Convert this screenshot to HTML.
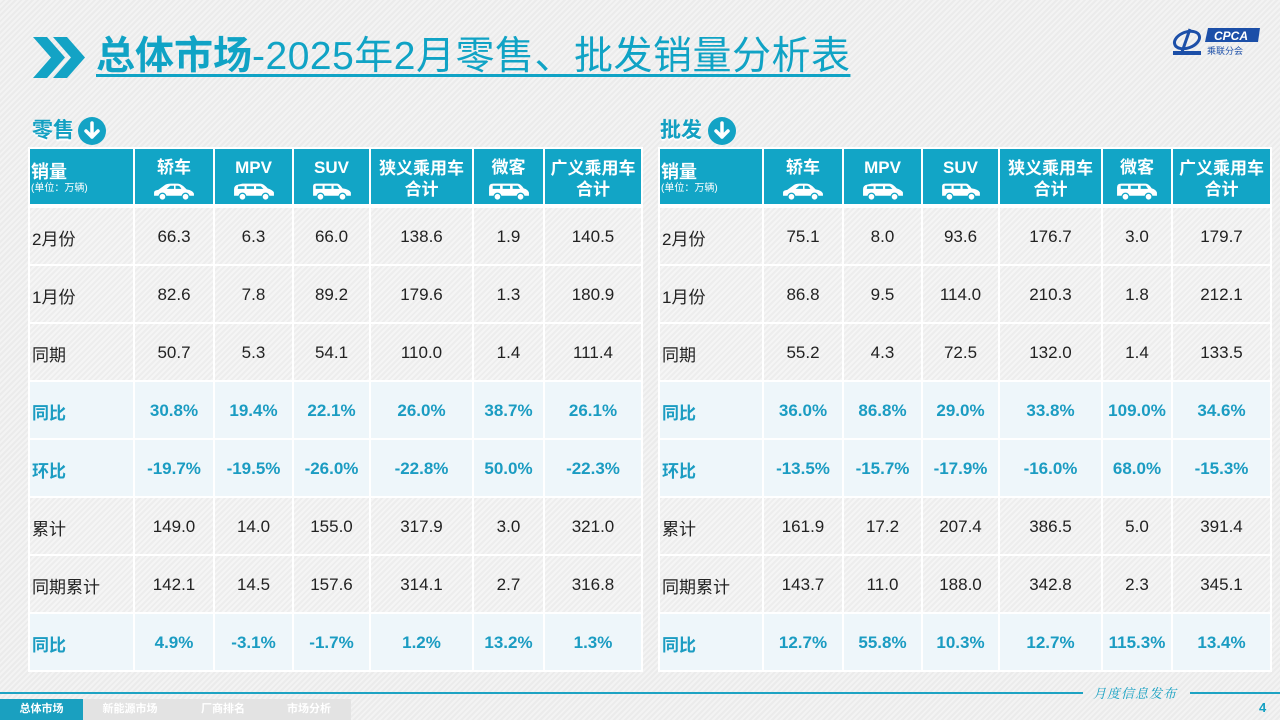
<!DOCTYPE html>
<html><head><meta charset="utf-8">
<style>
*{margin:0;padding:0;box-sizing:border-box}
html,body{width:1280px;height:720px;overflow:hidden}
body{position:relative;background:#efefef;background-image:repeating-linear-gradient(-45deg,#f3f3f3 0 2px,#ebebeb 2px 4px);font-family:"Liberation Sans","Noto Sans CJK SC",sans-serif;color:#222}
.abs{position:absolute}
.title{left:96px;top:34px;height:46px;line-height:46px;font-size:39px;color:#10a3c5;white-space:nowrap;letter-spacing:0.5px;text-decoration:underline;text-decoration-thickness:3px;text-underline-offset:5px;font-family:"Liberation Sans","Noto Sans CJK SC",sans-serif}
.title b{font-weight:bold;letter-spacing:0}
.sec{top:117px;height:28px;line-height:28px;font-size:21px;font-weight:bold;color:#13a0c2;text-shadow:0 2px 1px #fff}
.circ{width:28px;height:28px;border-radius:50%;background:#13a3c5;top:117px}
table{position:absolute;border-collapse:separate;border-spacing:2px;table-layout:fixed;background:#fff}
td{padding:0;text-align:center;vertical-align:middle;font-size:17px;white-space:nowrap;overflow:hidden}
.hd td{background:#12a5c6;color:#fff;font-weight:bold;height:55px;vertical-align:top;padding-top:9px;line-height:20px;font-size:17px}
.hd td.first{text-align:left;padding-top:13px;padding-left:1px}
.hd td.first .u{font-size:10px;font-weight:normal;line-height:14px}
.hd td.two{line-height:21px}
.hd svg{display:block;margin:4px auto 0}
.bd td{height:56px;padding-top:2px;background:#f1f1f1;background-image:repeating-linear-gradient(-45deg,#f5f5f5 0 2px,#ededed 2px 4px)}
.bd td.l{text-align:left;padding-left:2px;padding-top:3px}
.bd tr.h td{background:#eef6fa;color:#1b9cc2;font-weight:bold}
.line{height:2px;background:#1ea3c3;top:692px}
.tab{top:699px;height:21px;line-height:21px;font-size:11px;font-weight:bold;color:#fff;text-align:center}
</style></head><body>

<svg class="abs" style="left:33px;top:37px" width="54" height="41" viewBox="0 0 54 41">
<polygon points="0,0 14,0 32,20.5 14,41 0,41 18,20.5" fill="#13a3c5"/>
<polygon points="20,0 34,0 52,20.5 34,41 20,41 38,20.5" fill="#13a3c5"/>
</svg>
<div class="abs title"><b>总体市场</b>-2025年2月零售、批发销量分析表</div>

<svg class="abs" style="left:1170px;top:26px" width="95" height="32" viewBox="0 0 95 32">
<ellipse cx="17" cy="14" rx="13" ry="8" fill="none" stroke="#1c4fa8" stroke-width="3" transform="rotate(-20 17 14)"/>
<path d="M20 3 L12 26" stroke="#1c4fa8" stroke-width="3"/>
<rect x="3" y="25" width="28" height="4" fill="#1c4fa8"/>
<polygon points="38,2 90,2 88,16 35,16" fill="#1c4fa8"/>
<text x="44" y="14" font-family="Liberation Sans" font-style="italic" font-size="12" fill="#fff" font-weight="bold">CPCA</text>
<text x="37" y="28" font-family="Noto Sans CJK SC" font-size="9" fill="#1c4fa8">乘联分会</text>
</svg>

<div class="abs sec" style="left:32px">零售</div>
<div class="abs circ" style="left:78px"><svg width="28" height="28" viewBox="0 0 28 28"><path d="M14 6 V20 M8 14 L14 20 L20 14" stroke="#fff" stroke-width="3.5" fill="none" stroke-linecap="round" stroke-linejoin="round"/></svg></div>
<div class="abs sec" style="left:660px">批发</div>
<div class="abs circ" style="left:708px"><svg width="28" height="28" viewBox="0 0 28 28"><path d="M14 6 V20 M8 14 L14 20 L20 14" stroke="#fff" stroke-width="3.5" fill="none" stroke-linecap="round" stroke-linejoin="round"/></svg></div>

<svg width="0" height="0" style="position:absolute">
<defs>
<g id="sedan"><path d="M1 13 V10 Q1 8 5 7.5 L11 3 Q13 1.5 17 1.5 H23 Q26 1.5 29 4 L32 7 Q38 8 39 11 V13 Z" fill="#fff"/><path d="M13 6.5 L16.5 3.5 H20 V6.5 Z M21.5 6.5 V3.5 H24 Q25.5 3.5 27 6.5 Z" fill="#12a5c6"/><circle cx="9" cy="14" r="3.3" fill="#fff" stroke="#12a5c6" stroke-width="1.2"/><circle cx="31" cy="14" r="3.3" fill="#fff" stroke="#12a5c6" stroke-width="1.2"/></g>
<g id="mpv"><path d="M1 13 V7 Q1 3 5 2.5 L9 1.5 H26 Q29 1.5 33 6 Q38 7.5 39 10 V13 Z" fill="#fff"/><path d="M5 4 H11 V6.5 H4.5 Z M13 4 H20 V6.5 H13 Z M22 4 H26.5 L29 6.5 H22 Z" fill="#12a5c6"/><circle cx="9" cy="14" r="3.3" fill="#fff" stroke="#12a5c6" stroke-width="1.2"/><circle cx="31" cy="14" r="3.3" fill="#fff" stroke="#12a5c6" stroke-width="1.2"/></g>
<g id="suv"><path d="M2 13 V4 Q2 1.5 5 1.5 H25 Q27 1.5 30 6 Q37 7 38 10 V13 Z" fill="#fff"/><path d="M4.5 3.5 H11 V6.5 H4.5 Z M13 3.5 H19.5 V6.5 H13 Z M21.5 3.5 H25 L27 6.5 H21.5 Z" fill="#12a5c6"/><circle cx="9" cy="14" r="3.3" fill="#fff" stroke="#12a5c6" stroke-width="1.2"/><circle cx="30" cy="14" r="3.3" fill="#fff" stroke="#12a5c6" stroke-width="1.2"/></g>
<g id="van"><path d="M1 13 V5 Q1 1.5 5 1.5 H28 Q31 1.5 34 6 Q38 7 39 10 V13 Z" fill="#fff"/><path d="M4.5 3.5 H11.5 V6.5 H4.5 Z M14 3.5 H21 V6.5 H14 Z M23.5 3.5 H28.5 L30.5 6.5 H23.5 Z" fill="#12a5c6"/><circle cx="9" cy="14" r="3.3" fill="#fff" stroke="#12a5c6" stroke-width="1.2"/><circle cx="31" cy="14" r="3.3" fill="#fff" stroke="#12a5c6" stroke-width="1.2"/></g>
</defs></svg>

<!-- LEFT -->
<table class="hd" style="left:28px;top:147px;width:615px">
<colgroup><col style="width:103px"><col style="width:78px"><col style="width:77px"><col style="width:75px"><col style="width:101px"><col style="width:69px"><col style="width:96px"></colgroup>
<tr>
<td class="first"><div style="font-size:18px">销量</div><div class="u">(单位：万辆)</div></td>
<td>轿车<svg width="42" height="19" viewBox="0 0 40 18"><use href="#sedan"/></svg></td>
<td>MPV<svg width="42" height="19" viewBox="0 0 40 18"><use href="#mpv"/></svg></td>
<td>SUV<svg width="42" height="19" viewBox="0 0 40 18"><use href="#suv"/></svg></td>
<td class="two">狭义乘用车<br>合计</td>
<td>微客<svg width="42" height="19" viewBox="0 0 40 18"><use href="#van"/></svg></td>
<td class="two">广义乘用车<br>合计</td>
</tr></table>
<table class="bd" style="left:28px;top:206px;width:615px">
<colgroup><col style="width:103px"><col style="width:78px"><col style="width:77px"><col style="width:75px"><col style="width:101px"><col style="width:69px"><col style="width:96px"></colgroup>
<tr><td class="l">2月份</td><td>66.3</td><td>6.3</td><td>66.0</td><td>138.6</td><td>1.9</td><td>140.5</td></tr>
<tr><td class="l">1月份</td><td>82.6</td><td>7.8</td><td>89.2</td><td>179.6</td><td>1.3</td><td>180.9</td></tr>
<tr><td class="l">同期</td><td>50.7</td><td>5.3</td><td>54.1</td><td>110.0</td><td>1.4</td><td>111.4</td></tr>
<tr class="h"><td class="l">同比</td><td>30.8%</td><td>19.4%</td><td>22.1%</td><td>26.0%</td><td>38.7%</td><td>26.1%</td></tr>
<tr class="h"><td class="l">环比</td><td>-19.7%</td><td>-19.5%</td><td>-26.0%</td><td>-22.8%</td><td>50.0%</td><td>-22.3%</td></tr>
<tr><td class="l">累计</td><td>149.0</td><td>14.0</td><td>155.0</td><td>317.9</td><td>3.0</td><td>321.0</td></tr>
<tr><td class="l">同期累计</td><td>142.1</td><td>14.5</td><td>157.6</td><td>314.1</td><td>2.7</td><td>316.8</td></tr>
<tr class="h"><td class="l">同比</td><td>4.9%</td><td>-3.1%</td><td>-1.7%</td><td>1.2%</td><td>13.2%</td><td>1.3%</td></tr>
</table>

<!-- RIGHT -->
<table class="hd" style="left:658px;top:147px;width:614px">
<colgroup><col style="width:102px"><col style="width:78px"><col style="width:77px"><col style="width:75px"><col style="width:101px"><col style="width:68px"><col style="width:97px"></colgroup>
<tr>
<td class="first"><div style="font-size:18px">销量</div><div class="u">(单位：万辆)</div></td>
<td>轿车<svg width="42" height="19" viewBox="0 0 40 18"><use href="#sedan"/></svg></td>
<td>MPV<svg width="42" height="19" viewBox="0 0 40 18"><use href="#mpv"/></svg></td>
<td>SUV<svg width="42" height="19" viewBox="0 0 40 18"><use href="#suv"/></svg></td>
<td class="two">狭义乘用车<br>合计</td>
<td>微客<svg width="42" height="19" viewBox="0 0 40 18"><use href="#van"/></svg></td>
<td class="two">广义乘用车<br>合计</td>
</tr></table>
<table class="bd" style="left:658px;top:206px;width:614px">
<colgroup><col style="width:102px"><col style="width:78px"><col style="width:77px"><col style="width:75px"><col style="width:101px"><col style="width:68px"><col style="width:97px"></colgroup>
<tr><td class="l">2月份</td><td>75.1</td><td>8.0</td><td>93.6</td><td>176.7</td><td>3.0</td><td>179.7</td></tr>
<tr><td class="l">1月份</td><td>86.8</td><td>9.5</td><td>114.0</td><td>210.3</td><td>1.8</td><td>212.1</td></tr>
<tr><td class="l">同期</td><td>55.2</td><td>4.3</td><td>72.5</td><td>132.0</td><td>1.4</td><td>133.5</td></tr>
<tr class="h"><td class="l">同比</td><td>36.0%</td><td>86.8%</td><td>29.0%</td><td>33.8%</td><td>109.0%</td><td>34.6%</td></tr>
<tr class="h"><td class="l">环比</td><td>-13.5%</td><td>-15.7%</td><td>-17.9%</td><td>-16.0%</td><td>68.0%</td><td>-15.3%</td></tr>
<tr><td class="l">累计</td><td>161.9</td><td>17.2</td><td>207.4</td><td>386.5</td><td>5.0</td><td>391.4</td></tr>
<tr><td class="l">同期累计</td><td>143.7</td><td>11.0</td><td>188.0</td><td>342.8</td><td>2.3</td><td>345.1</td></tr>
<tr class="h"><td class="l">同比</td><td>12.7%</td><td>55.8%</td><td>10.3%</td><td>12.7%</td><td>115.3%</td><td>13.4%</td></tr>
</table>

<!-- FOOTER -->
<div class="abs line" style="left:0;width:1083px"></div>
<div class="abs line" style="left:1190px;width:90px"></div>
<div class="abs" style="left:1093px;top:684px;height:18px;line-height:18px;font-size:13px;font-style:italic;color:#13a0c2;letter-spacing:1px;font-family:'Noto Serif CJK SC','Noto Sans CJK SC',serif">月度信息发布</div>
<div class="abs" style="left:1259px;top:699px;height:18px;line-height:18px;font-size:13px;font-weight:bold;color:#13a0c2">4</div>
<div class="abs tab" style="left:0;width:83px;background:#1aa0c0">总体市场</div>
<div class="abs" style="left:83px;top:699px;width:268px;height:21px;background:#e3e3e3"></div>
<div class="abs tab" style="left:93px;width:74px">新能源市场</div>
<div class="abs tab" style="left:186px;width:74px">厂商排名</div>
<div class="abs tab" style="left:272px;width:74px">市场分析</div>
</body></html>
